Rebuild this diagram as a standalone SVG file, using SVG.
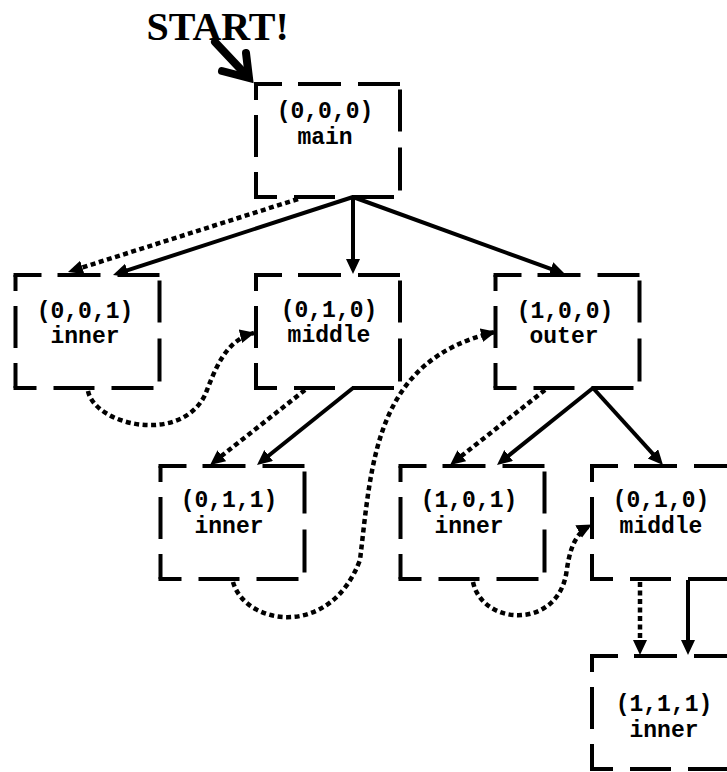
<svg xmlns="http://www.w3.org/2000/svg" xmlns:xlink="http://www.w3.org/1999/xlink" width="727" height="772" viewBox="0 0 727 772">
<style>
.bx line{stroke:#000;stroke-width:4;fill:none}
.lbl{font-family:"Liberation Mono","Courier New",monospace;font-weight:bold;font-size:23px;text-anchor:middle;fill:#000}
.solid{stroke:#000;stroke-width:4;fill:none}
.dot{stroke:#000;stroke-width:4.5;fill:none;stroke-dasharray:5 3.5}
</style>
<defs>
<g id="box" class="bx">
<line x1="-2" y1="0" x2="144" y2="0" stroke-dasharray="28 16 43 17 60"/>
<line x1="144" y1="0" x2="144" y2="113" stroke-dasharray="0 5.5 42 16 43 100"/>
<line x1="144" y1="113" x2="-2" y2="113" stroke-dasharray="0 6 42 17 41 17 30"/>
<line x1="0" y1="113" x2="0" y2="0" stroke-dasharray="25 15 42 15 40"/>
</g>
<marker id="ah" markerUnits="userSpaceOnUse" markerWidth="16" markerHeight="15" refX="5" refY="7" orient="auto" viewBox="0 0 16 15">
<path d="M0,0 L15,7 L0,14 z" fill="#000"/>
</marker>
<marker id="ahc" markerUnits="userSpaceOnUse" markerWidth="16" markerHeight="15" refX="14" refY="7" orient="auto" viewBox="0 0 16 15">
<path d="M0,0 L15,7 L0,14 z" fill="#000"/>
</marker>
</defs>

<g id="start">
<text x="146.5" y="40" font-family="Liberation Serif, Times New Roman, serif" font-weight="bold" font-size="40">START!</text>
<path d="M215,42 L247,76" stroke="#000" stroke-width="8" stroke-linecap="round" fill="none"/>
<polyline points="222,71 249,78 246,53" stroke="#000" stroke-width="8" stroke-linecap="round" stroke-linejoin="miter" fill="none"/>
</g>

<g id="connectors">
<line class="solid" x1="353" y1="197" x2="122.5" y2="271.9" marker-end="url(#ah)"/>
<line class="solid" x1="353" y1="197" x2="353" y2="264" marker-end="url(#ah)"/>
<line class="solid" x1="353" y1="197" x2="555.6" y2="270.6" marker-end="url(#ah)"/>
<line class="dot" x1="298" y1="199" x2="77.5" y2="269" marker-end="url(#ah)"/>

<line class="solid" x1="353" y1="388" x2="264.8" y2="458.7" marker-end="url(#ah)"/>
<line class="dot" x1="305" y1="390" x2="217.9" y2="458.8" marker-end="url(#ah)"/>

<line class="solid" x1="593" y1="388" x2="504.8" y2="458.7" marker-end="url(#ah)"/>
<line class="solid" x1="593" y1="388" x2="656.3" y2="457.6" marker-end="url(#ah)"/>
<line class="dot" x1="545" y1="390" x2="457.9" y2="458.8" marker-end="url(#ah)"/>

<line class="solid" x1="688" y1="580" x2="688" y2="645" marker-end="url(#ah)"/>
<line class="dot" x1="640" y1="582" x2="640" y2="645" marker-end="url(#ah)"/>

<path class="dot" d="M88,391 C95,425 180,445 205,395 C215,370 225,340 254,333" marker-end="url(#ahc)"/>
<path class="dot" d="M233,582 C245,625 330,640 360,560 C372,460 375,360 495,332" marker-end="url(#ahc)"/>
<path class="dot" d="M473,582 C482,625 555,630 566,575 C569,555 572,535 591,525" marker-end="url(#ahc)"/>
</g>

<g id="n000"><use xlink:href="#box" x="256" y="84"/><text class="lbl" x="325" y="117.5">(0,0,0)</text><text class="lbl" x="325" y="144">main</text></g>
<g id="n001"><use xlink:href="#box" x="15.5" y="275"/><text class="lbl" x="85" y="318">(0,0,1)</text><text class="lbl" x="85" y="343">inner</text></g>
<g id="n010"><use xlink:href="#box" x="256" y="275"/><text class="lbl" x="329" y="317">(0,1,0)</text><text class="lbl" x="329" y="342">middle</text></g>
<g id="n100"><use xlink:href="#box" x="495.5" y="275"/><text class="lbl" x="565" y="317.5">(1,0,0)</text><text class="lbl" x="564" y="343">outer</text></g>
<g id="n011"><use xlink:href="#box" x="160.5" y="466"/><text class="lbl" x="229" y="507">(0,1,1)</text><text class="lbl" x="229" y="533">inner</text></g>
<g id="n101"><use xlink:href="#box" x="400.5" y="466"/><text class="lbl" x="469" y="507">(1,0,1)</text><text class="lbl" x="469" y="533">inner</text></g>
<g id="n010b"><use xlink:href="#box" x="592" y="466"/><text class="lbl" x="661" y="507">(0,1,0)</text><text class="lbl" x="661" y="533">middle</text></g>
<g id="n111"><use xlink:href="#box" x="592" y="656"/><text class="lbl" x="664" y="711">(1,1,1)</text><text class="lbl" x="664" y="736.5">inner</text></g>
</svg>
